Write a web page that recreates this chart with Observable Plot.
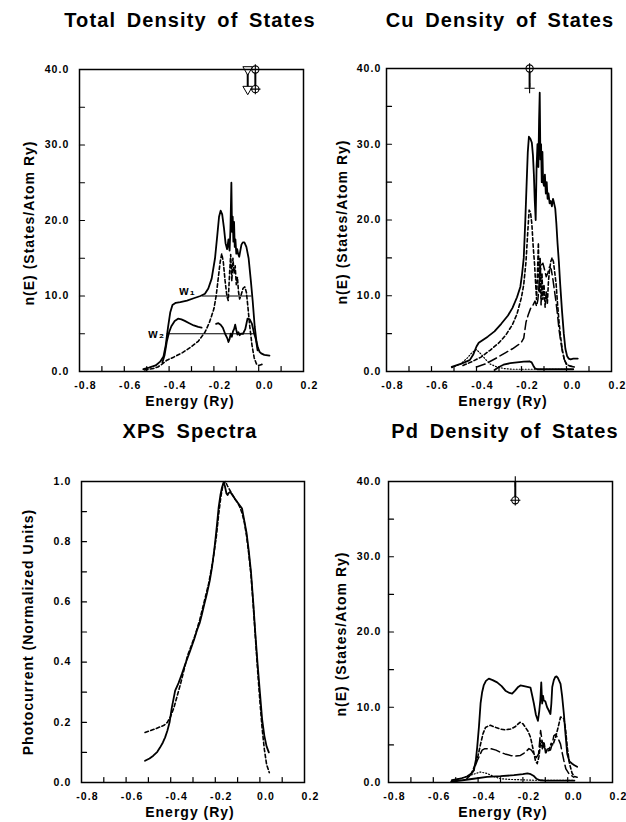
<!DOCTYPE html>
<html><head><meta charset="utf-8">
<script src="https://cdn.jsdelivr.net/npm/d3@7"></script>
<script src="https://cdn.jsdelivr.net/npm/@observablehq/plot@0.6"></script>
<style>
html,body{margin:0;padding:0;background:#fff;}
#root{position:relative;width:626px;height:822px;overflow:hidden;font-family:"Liberation Sans",Arial,Helvetica,sans-serif;color:#000;}
.t{position:absolute;white-space:nowrap;font-weight:bold;}
.title{font-size:20px;letter-spacing:1.1px;word-spacing:4px;line-height:20px;transform:translateX(-50%);}
.xl{font-size:14px;letter-spacing:1px;line-height:14px;transform:translateX(-50%);}
.yl{font-size:14px;letter-spacing:1px;line-height:14px;transform:translate(-50%,-50%) rotate(-90deg);}
.p{position:absolute;}
</style></head><body><div id="root"></div><script>
// ---------- tick values ----------
const xTicks = [-0.8, -0.6, -0.4, -0.2, 0.0, 0.2];
const xMinor = [-0.7, -0.6, -0.5, -0.4, -0.3, -0.2, -0.1, 0.0, 0.1];
const dosTicks = [0, 10, 20, 30, 40];
const dosMinor = [5, 10, 15, 20, 25, 30, 35];
const xpsTicks = [0, 0.2, 0.4, 0.6, 0.8, 1.0];
const xpsMinor = [0.1, 0.2, 0.3, 0.4, 0.5, 0.6, 0.7, 0.8, 0.9];

// ---------- text ----------
const titles = ["Total Density of States", "Cu Density of States", "XPS Spectra", "Pd Density of States"];
const xLabel = "Energy (Ry)";
const yLabelDos = "n(E) (States/Atom Ry)";
const yLabelXps = "Photocurrent (Normalized Units)";

// ---------- Total DOS [E (Ry), n(E)] ----------
const tdosSolid = [[-0.515,0.3],[-0.49,0.5],[-0.46,0.8],[-0.44,1.3],[-0.425,2.0],[-0.415,3.5],[-0.405,5.8],[-0.395,7.8],[-0.385,8.8],[-0.37,9.1],[-0.35,9.2],[-0.32,9.4],[-0.29,9.7],[-0.26,10.0],[-0.24,10.3],[-0.225,11.0],[-0.21,12.3],[-0.195,15.0],[-0.185,18.0],[-0.177,20.5],[-0.17,21.3],[-0.163,20.8],[-0.155,19.0],[-0.148,17.0],[-0.141,16.2],[-0.135,17.5],[-0.13,16.0],[-0.126,19.0],[-0.122,25.0],[-0.119,18.5],[-0.116,20.5],[-0.113,17.2],[-0.11,19.8],[-0.107,16.5],[-0.104,17.5],[-0.1,15.6],[-0.096,16.2],[-0.092,15.6],[-0.087,15.2],[-0.082,16.0],[-0.077,16.8],[-0.071,17.1],[-0.064,17.1],[-0.055,16.5],[-0.045,15.0],[-0.035,12.0],[-0.027,9.4],[-0.018,6.0],[-0.01,4.0],[-0.004,3.2],[0.004,2.6],[0.011,2.4],[0.025,2.2],[0.048,2.1]];
const tdosDash = [[-0.51,0.2],[-0.47,0.4],[-0.45,0.6],[-0.43,1.0],[-0.41,1.5],[-0.38,1.9],[-0.34,2.5],[-0.30,3.3],[-0.27,4.0],[-0.24,5.2],[-0.22,6.5],[-0.20,8.3],[-0.19,10.0],[-0.18,12.5],[-0.172,14.5],[-0.165,15.6],[-0.158,14.5],[-0.15,12.0],[-0.142,10.0],[-0.136,9.4],[-0.13,13.0],[-0.125,15.5],[-0.12,12.0],[-0.115,15.0],[-0.11,13.0],[-0.105,14.0],[-0.1,11.5],[-0.095,12.5],[-0.09,10.5],[-0.085,9.6],[-0.078,10.2],[-0.07,11.0],[-0.062,11.2],[-0.055,10.5],[-0.048,8.5],[-0.04,6.0],[-0.03,3.5],[-0.02,1.8],[-0.01,1.0],[0.0,0.8],[0.01,0.9],[0.02,1.0]];
const tdosLow = [[-0.43,1.2],[-0.42,2.2],[-0.41,4.0],[-0.40,5.2],[-0.39,6.0],[-0.375,6.7],[-0.36,7.0],[-0.345,6.9],[-0.33,6.7],[-0.31,6.4],[-0.29,6.1],[-0.27,5.9],[-0.255,5.8],[-0.22,NaN],[-0.19,6.3],[-0.18,6.4],[-0.17,6.2],[-0.16,5.8],[-0.15,5.0],[-0.14,4.4],[-0.135,3.9],[-0.13,4.3],[-0.125,5.0],[-0.12,4.6],[-0.115,5.3],[-0.11,5.6],[-0.105,6.2],[-0.10,5.5],[-0.095,4.9],[-0.09,5.2],[-0.085,4.8],[-0.08,5.0],[-0.07,5.0],[-0.06,5.6],[-0.05,7.0],[-0.04,6.9],[-0.03,6.3],[-0.02,5.0],[-0.012,4.2],[-0.005,2.8]];
const widthLevels = [{n:10, e1:-0.251, e2:-0.030}, {n:5, e1:-0.409, e2:-0.011}];
const widthNames = [{E:-0.318, n:10.7, t:"w\u2081"}, {E:-0.455, n:5.0, t:"w\u2082"}];
const tdosMarkers = [{E:-0.049, n:40, s:"tri"}, {E:-0.049, n:37.4, s:"tri"}, {E:-0.015, n:40, s:"cplus"}, {E:-0.015, n:37.4, s:"cplus"}];

// ---------- Cu DOS ----------
const cuSolid = [[-0.51,0.6],[-0.47,1.0],[-0.43,1.5],[-0.415,2.2],[-0.40,3.3],[-0.39,3.8],[-0.375,4.1],[-0.35,4.6],[-0.32,5.3],[-0.29,6.3],[-0.26,7.4],[-0.24,8.4],[-0.22,9.8],[-0.205,11.2],[-0.197,13.0],[-0.19,15.0],[-0.183,20.0],[-0.177,25.0],[-0.172,29.0],[-0.167,31.0],[-0.16,30.7],[-0.154,30.2],[-0.149,28.5],[-0.145,26.0],[-0.141,22.5],[-0.137,20.0],[-0.133,27.0],[-0.129,30.0],[-0.125,27.0],[-0.122,33.0],[-0.119,36.8],[-0.116,28.0],[-0.113,30.0],[-0.11,25.0],[-0.107,29.0],[-0.104,25.0],[-0.1,24.5],[-0.096,26.0],[-0.092,23.5],[-0.088,25.0],[-0.084,22.8],[-0.08,23.5],[-0.075,22.2],[-0.07,22.5],[-0.065,21.8],[-0.06,22.8],[-0.055,22.2],[-0.05,21.5],[-0.045,19.5],[-0.04,17.0],[-0.034,14.5],[-0.028,11.5],[-0.02,8.0],[-0.012,5.0],[-0.005,3.0],[0.003,2.0],[0.01,1.7],[0.018,1.6],[0.03,1.7],[0.05,1.7]];
const cuDash = [[-0.46,0.8],[-0.42,1.3],[-0.38,1.9],[-0.34,2.8],[-0.30,3.8],[-0.27,4.8],[-0.24,6.2],[-0.22,7.6],[-0.20,9.8],[-0.19,11.5],[-0.18,14.5],[-0.172,18.5],[-0.166,21.3],[-0.16,21.0],[-0.154,19.5],[-0.148,16.5],[-0.142,14.2],[-0.137,11.5],[-0.133,9.5],[-0.129,13.0],[-0.125,17.0],[-0.121,10.5],[-0.117,15.0],[-0.113,8.8],[-0.109,13.0],[-0.105,9.5],[-0.1,11.5],[-0.095,8.5],[-0.09,10.5],[-0.085,9.0],[-0.08,12.0],[-0.075,13.5],[-0.07,14.5],[-0.064,15.0],[-0.058,14.5],[-0.052,13.0],[-0.046,11.5],[-0.04,9.0],[-0.033,6.5],[-0.026,4.5],[-0.018,2.8],[-0.01,1.6],[0.0,0.9],[0.01,0.8],[0.02,0.7],[0.03,0.7]];
const cuLong = [[-0.40,0.6],[-0.36,1.0],[-0.31,1.8],[-0.27,2.5],[-0.24,3.0],[-0.215,3.5],[-0.20,3.9],[-0.19,4.4],[-0.18,6.5],[-0.17,7.5],[-0.16,8.3],[-0.15,8.7],[-0.14,9.3],[-0.133,8.6],[-0.127,9.5],[-0.12,12.0],[-0.113,14.0],[-0.105,14.3],[-0.098,13.5],[-0.09,12.5],[-0.083,13.0],[-0.076,13.8],[-0.068,13.5],[-0.062,12.5],[-0.055,11.0],[-0.048,9.5],[-0.04,7.5],[-0.033,5.5],[-0.025,3.8],[-0.018,2.6],[-0.01,1.6],[0.0,1.0],[0.015,0.7],[0.035,0.6]];
const cuDot = [[-0.51,0.5],[-0.47,1.0],[-0.44,1.8],[-0.42,2.5],[-0.40,2.9],[-0.38,2.3],[-0.36,1.6],[-0.34,1.0],[-0.31,0.6],[-0.28,0.4],[-0.24,0.3],[-0.15,0.3],[-0.05,0.3],[0.03,0.3]];
const cuLow = [[-0.32,0.2],[-0.30,0.6],[-0.28,0.9],[-0.25,1.1],[-0.22,1.2],[-0.19,1.3],[-0.165,1.35],[-0.155,1.2],[-0.148,0.8],[-0.14,0.4],[-0.13,0.3],[-0.05,0.3],[0.03,0.3]];
const cuMarkers = [{E:-0.164, n:40, s:"cplus"}, {E:-0.164, n:37.4, s:"plus"}];

// ---------- XPS ----------
const xpsSolid = [[-0.515,0.072],[-0.495,0.080],[-0.478,0.089],[-0.46,0.102],[-0.448,0.116],[-0.435,0.133],[-0.425,0.15],[-0.415,0.172],[-0.405,0.20],[-0.395,0.249],[-0.38,0.305],[-0.365,0.33],[-0.35,0.36],[-0.335,0.393],[-0.313,0.437],[-0.295,0.475],[-0.283,0.504],[-0.27,0.53],[-0.26,0.559],[-0.25,0.59],[-0.238,0.626],[-0.225,0.67],[-0.215,0.714],[-0.205,0.77],[-0.2,0.803],[-0.192,0.86],[-0.185,0.914],[-0.177,0.955],[-0.17,0.98],[-0.163,0.997],[-0.157,0.985],[-0.15,0.96],[-0.145,0.955],[-0.14,0.962],[-0.133,0.965],[-0.126,0.958],[-0.12,0.952],[-0.11,0.94],[-0.1,0.93],[-0.09,0.92],[-0.08,0.91],[-0.07,0.87],[-0.06,0.83],[-0.05,0.77],[-0.04,0.70],[-0.03,0.60],[-0.02,0.49],[-0.01,0.39],[0.0,0.30],[0.01,0.21],[0.02,0.155],[0.03,0.12],[0.04,0.10]];
const xpsDash = [[-0.515,0.166],[-0.47,0.178],[-0.43,0.19],[-0.415,0.20],[-0.40,0.22],[-0.385,0.25],[-0.37,0.29],[-0.355,0.33],[-0.34,0.375],[-0.325,0.42],[-0.31,0.45],[-0.29,0.49],[-0.27,0.54],[-0.25,0.60],[-0.23,0.66],[-0.21,0.74],[-0.195,0.82],[-0.185,0.89],[-0.175,0.95],[-0.165,0.99],[-0.155,1.0],[-0.145,0.985],[-0.13,0.965],[-0.115,0.945],[-0.1,0.93],[-0.09,0.915],[-0.08,0.895],[-0.07,0.865],[-0.06,0.82],[-0.05,0.76],[-0.04,0.69],[-0.03,0.59],[-0.02,0.48],[-0.01,0.37],[0.0,0.27],[0.01,0.18],[0.02,0.11],[0.03,0.06],[0.042,0.033]];

// ---------- Pd DOS ----------
const pdSolid = [[-0.517,0.3],[-0.48,0.5],[-0.45,0.8],[-0.43,1.2],[-0.419,1.6],[-0.41,3.0],[-0.404,4.7],[-0.396,7.5],[-0.389,10.5],[-0.382,12.0],[-0.375,12.9],[-0.365,13.5],[-0.352,13.8],[-0.335,13.6],[-0.315,13.3],[-0.295,12.8],[-0.278,12.2],[-0.26,11.9],[-0.248,11.8],[-0.235,12.2],[-0.221,12.7],[-0.211,12.9],[-0.195,12.8],[-0.18,12.7],[-0.166,12.6],[-0.158,11.5],[-0.151,10.5],[-0.142,9.0],[-0.133,8.2],[-0.127,9.5],[-0.122,11.0],[-0.118,13.3],[-0.114,10.5],[-0.11,11.5],[-0.107,10.9],[-0.1,10.8],[-0.092,10.0],[-0.085,9.6],[-0.077,9.1],[-0.073,10.5],[-0.069,12.7],[-0.062,13.6],[-0.056,14.0],[-0.05,14.1],[-0.044,13.9],[-0.038,13.5],[-0.032,13.1],[-0.025,11.5],[-0.017,9.1],[-0.01,6.5],[-0.002,3.8],[0.008,2.8],[0.02,2.5],[0.03,2.3],[0.042,2.1]];
const pdDash = [[-0.45,0.5],[-0.43,1.2],[-0.415,2.2],[-0.40,3.6],[-0.389,5.1],[-0.378,6.5],[-0.367,7.3],[-0.355,7.5],[-0.345,7.6],[-0.32,7.3],[-0.30,7.1],[-0.28,7.0],[-0.255,7.1],[-0.235,7.4],[-0.213,8.0],[-0.20,7.8],[-0.188,7.3],[-0.177,6.8],[-0.166,6.0],[-0.155,4.5],[-0.144,2.9],[-0.136,2.5],[-0.128,3.5],[-0.12,5.6],[-0.113,4.5],[-0.106,5.4],[-0.098,3.8],[-0.09,4.6],[-0.082,4.4],[-0.074,5.2],[-0.066,5.0],[-0.054,6.0],[-0.043,7.3],[-0.032,8.7],[-0.024,8.6],[-0.017,8.5],[-0.01,7.2],[-0.002,4.7],[0.008,2.5],[0.02,1.2],[0.03,0.8],[0.042,0.7]];
const pdLong = [[-0.44,0.8],[-0.42,1.6],[-0.404,2.9],[-0.39,3.8],[-0.382,4.3],[-0.37,4.5],[-0.345,4.5],[-0.32,4.3],[-0.30,4.0],[-0.28,3.8],[-0.255,3.6],[-0.235,3.5],[-0.211,3.6],[-0.19,4.0],[-0.173,4.5],[-0.162,4.3],[-0.151,3.8],[-0.14,3.3],[-0.13,3.8],[-0.121,6.9],[-0.114,5.5],[-0.107,4.7],[-0.098,4.4],[-0.088,4.2],[-0.077,4.3],[-0.07,5.0],[-0.062,6.2],[-0.054,6.4],[-0.046,6.0],[-0.039,5.6],[-0.032,5.1],[-0.025,4.0],[-0.017,2.9],[-0.008,1.8],[0.005,1.2],[0.027,0.7]];
const pdLow = [[-0.52,0.1],[-0.47,0.3],[-0.42,0.5],[-0.36,0.75],[-0.30,0.84],[-0.24,0.97],[-0.20,1.1],[-0.18,1.2],[-0.165,1.1],[-0.153,0.9],[-0.14,0.5],[-0.123,0.3],[-0.10,0.25],[-0.05,0.25],[0.0,0.25],[0.03,0.25]];
const pdDot = [[-0.52,0.2],[-0.46,0.7],[-0.42,1.1],[-0.39,1.4],[-0.36,1.2],[-0.33,0.8],[-0.30,0.5],[-0.25,0.4],[-0.20,0.35],[-0.15,0.3],[-0.10,0.3],[-0.05,0.3],[0.0,0.3],[0.03,0.3]];
const pdMarkers = [{E:-0.234, n:40, s:"plus"}, {E:-0.234, n:37.5, s:"cplus"}];

// ---------- drawing ----------
const lineStyles = {
  solid: {w: 1.8, dash: null},
  dash: {w: 1.6, dash: "3.5,2.5"},
  long: {w: 1.5, dash: "9,4"},
  dot: {w: 1.2, dash: "1,2"}
};
// plain tick-line shape for Plot.vector
const tickShape = {draw(context, l) { context.moveTo(0, 0); context.lineTo(0, -l); }};

function markerMarks(markers) {
  if (!markers) return [];
  const bars = d3.groups(markers, d => d.E).map(([E, g]) => ({E, n1: d3.min(g, d => d.n), n2: d3.max(g, d => d.n)}));
  return [
    Plot.ruleX(bars, {x: "E", y1: "n1", y2: "n2", stroke: "#000", strokeWidth: 2}),
    Plot.dot(markers.filter(d => d.s === "tri"), {x: "E", y: "n", symbol: "triangle", rotate: 180, r: 3.6, fill: "#fff", stroke: "#000", strokeWidth: 1}),
    Plot.dot(markers.filter(d => d.s === "cplus"), {x: "E", y: "n", symbol: "circle", r: 3.6, fill: "#fff", stroke: "#000", strokeWidth: 1.1}),
    Plot.dot(markers.filter(d => d.s === "cplus" || d.s === "plus"), {x: "E", y: "n", symbol: "plus", r: 3.4, fill: "none", stroke: "#000", strokeWidth: 1.1})
  ];
}

function makePanel(p) {
  const lines = p.series.map(s => Plot.line(s.data, {
    x: d => d[0], y: d => d[1], stroke: "#000",
    strokeWidth: lineStyles[s.style].w,
    strokeDasharray: lineStyles[s.style].dash || undefined,
    strokeLinejoin: "round"
  }));
  return Plot.plot({
    width: p.w, height: p.h,
    marginLeft: p.ml, marginRight: p.mr, marginTop: p.mt, marginBottom: p.mb,
    x: {domain: [-0.8, 0.2]},
    y: {domain: p.yDomain},
    style: {fontFamily: "'Liberation Sans', Arial, sans-serif", fontSize: "10.5px", fontWeight: "bold", letterSpacing: "1.1px", background: "transparent", color: "#000", overflow: "visible"},
    marks: [
      // inward minor ticks along the bottom and left edges
      Plot.vector(xMinor, {x: d => d, frameAnchor: "bottom", length: 5, rotate: 0, anchor: "start", shape: tickShape, stroke: "#000", strokeWidth: 1.2}),
      Plot.vector(p.yMinor, {y: d => d, frameAnchor: "left", length: 5, rotate: 90, anchor: "start", shape: tickShape, stroke: "#000", strokeWidth: 1.2}),
      Plot.axisX({ticks: xTicks, tickSize: 0, tickPadding: 10, dx: 6, tickFormat: d => d.toFixed(1), label: null, fill: "#000"}),
      Plot.axisY({ticks: p.yTicks, tickSize: 0, tickPadding: p.pad, tickFormat: d => d.toFixed(1), label: null, fill: "#000"}),
      ...(p.extra || []),
      ...lines,
      ...markerMarks(p.markers),
      Plot.frame({stroke: "#000", strokeWidth: 1.5})
    ]
  });
}

const root = document.getElementById("root");
function place(node, left, top) {
  node.classList.add("p");
  node.style.left = left + "px";
  node.style.top = top + "px";
  root.appendChild(node);
}
function addText(cls, text, left, top) {
  const d = document.createElement("div");
  d.className = "t " + cls;
  d.textContent = text;
  d.style.left = left + "px";
  d.style.top = top + "px";
  root.appendChild(d);
}

const panels = [
  {left: 0, top: 40, w: 313, h: 360, ml: 79, mr: 10, mt: 29, mb: 29, pad: 10, yDomain: [0, 40], yTicks: dosTicks, yMinor: dosMinor,
   series: [{data: tdosSolid, style: "solid"}, {data: tdosDash, style: "dash"}, {data: tdosLow, style: "solid"}],
   extra: [
     Plot.ruleY(widthLevels, {y: "n", x1: "e1", x2: "e2", stroke: "#000", strokeWidth: 1}),
     Plot.text(widthNames, {x: "E", y: "n", text: "t", fontSize: 12, fontWeight: "bold", letterSpacing: "0px", fill: "#000"})
   ],
   markers: tdosMarkers},
  {left: 313, top: 40, w: 313, h: 360, ml: 73, mr: 15, mt: 28, mb: 29, pad: 5, yDomain: [0, 40], yTicks: dosTicks, yMinor: dosMinor,
   series: [{data: cuSolid, style: "solid"}, {data: cuDash, style: "dash"}, {data: cuLong, style: "long"}, {data: cuDot, style: "dot"}, {data: cuLow, style: "solid"}],
   markers: cuMarkers},
  {left: 0, top: 450, w: 313, h: 360, ml: 81, mr: 9, mt: 31, mb: 28, pad: 10, yDomain: [0, 1], yTicks: xpsTicks, yMinor: xpsMinor,
   series: [{data: xpsSolid, style: "solid"}, {data: xpsDash, style: "dash"}]},
  {left: 313, top: 450, w: 313, h: 360, ml: 75, mr: 14, mt: 31, mb: 28, pad: 7, yDomain: [0, 40], yTicks: dosTicks, yMinor: dosMinor,
   series: [{data: pdSolid, style: "solid"}, {data: pdDash, style: "dash"}, {data: pdLong, style: "long"}, {data: pdLow, style: "solid"}, {data: pdDot, style: "dot"}],
   markers: pdMarkers}
];

panels.forEach(p => place(makePanel(p), p.left, p.top));

addText("title", titles[0], 190, 10);
addText("title", titles[1], 500, 10);
addText("title", titles[2], 190, 421);
addText("title", titles[3], 505, 421);
addText("xl", xLabel, 190, 394);
addText("xl", xLabel, 503, 394);
addText("xl", xLabel, 190, 805);
addText("xl", xLabel, 503, 805);
addText("yl", yLabelDos, 29, 223);
addText("yl", yLabelDos, 342, 222);
addText("yl", yLabelXps, 28, 632);
addText("yl", yLabelDos, 341, 634);
</script></body></html>
